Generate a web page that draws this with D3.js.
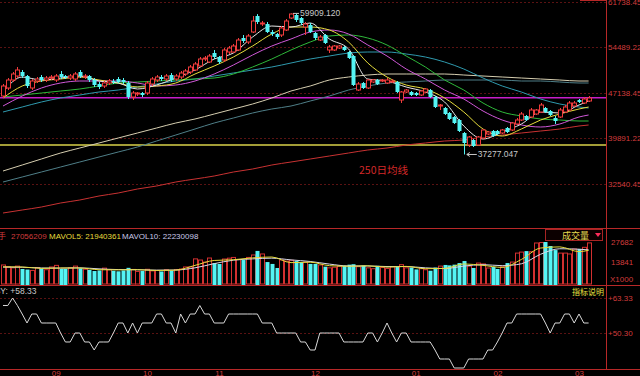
<!DOCTYPE html>
<html>
<head>
<meta charset="utf-8">
<script src="https://cdnjs.cloudflare.com/ajax/libs/d3/7.8.5/d3.min.js"></script>
<style>
html, body { margin: 0; padding: 0; background: #000; overflow: hidden; }
svg { display: block; }
text { font-family: "Liberation Sans", Arial, sans-serif; }
</style>
</head>
<body>
<div id="chart"></div>
<script>
// ---- daily bars (index 0..122) ----
var openP = [46658,47941,49225,49866,50508,49866,47941,49064,49706,49225,
  49545,49225,50187,49866,49545,49385,50508,49706,49866,49225,
  48583,48262,48743,49064,49385,49225,48743,46497,46979,47139,
  47139,48583,49225,49706,49385,50027,49385,49706,50187,50508,
  50829,51471,52594,52112,53556,52914,52433,53717,53717,54038,
  55963,55321,56925,59492,58209,58209,56925,56604,56444,57246,
  59171,59653,59171,57727,58048,56765,55642,56444,54038,54038,
  54358,54519,53717,53075,47620,48743,47941,48904,49225,49064,
  48743,48904,48904,46016,47299,47299,47139,46818,47299,47620,
  46497,45053,44733,43930,43289,42807,40722,38797,39599,38797,
  39920,40561,41043,41043,40722,41524,41203,42166,42807,43449,
  43289,43770,44091,44733,44251,43128,43289,44091,44412,45053,
  46016,45535,45856];
var closeP = [48262,49225,50187,50829,49866,48262,49064,49385,49225,49545,
  49706,49866,49706,49706,49866,50187,49866,49866,49225,48422,
  48102,48743,49064,48904,48904,48904,46497,47139,47139,46818,
  48743,49385,49706,49385,49866,49225,49866,50348,50668,51310,
  51791,52594,52754,53075,52914,52112,54038,54358,54679,55642,
  55481,56284,58690,58530,58369,56925,56604,56123,57567,58690,
  59813,58850,58369,58209,56925,55963,56123,55161,54519,54679,
  54679,54038,52754,48422,48583,47941,49225,49225,48583,49225,
  49225,49064,47299,47299,47620,46818,46818,47460,47781,46497,
  44893,45214,43770,42968,42326,41043,39118,40080,38636,40080,
  41203,40882,40241,40561,41203,40882,42326,42807,43770,42807,
  44412,44412,45214,44091,43610,42647,44412,44893,45535,45535,
  45695,46176,46337];
var highP = [48583,49545,50508,51310,50829,50027,49385,49706,50027,49866,
  50027,50187,50668,50027,50187,50508,50829,50187,50027,49545,
  48904,49064,49385,49385,49706,49545,49064,47460,47299,47299,
  49064,49706,50027,50027,50187,50348,50187,50668,50989,51631,
  52112,52914,53075,53396,54038,53075,54358,54679,55000,55963,
  56444,56604,59492,59800,58690,58530,57246,56765,57888,59011,
  59909.12,59813,59332,58530,58369,56925,56444,56604,54840,54840,
  54840,54679,53877,53235,48904,48904,49385,49385,49385,49385,
  49545,49385,49064,47460,47781,47460,47299,47620,47941,47781,
  46658,45374,44893,44091,43449,42968,40882,40241,39759,40241,
  41364,41043,41203,41203,41364,41684,42487,43128,44091,43610,
  44733,44572,45535,44893,44412,43449,44733,45214,45856,45856,
  46176,46497,46658];
var lowP = [46337,47620,48904,49545,49545,47941,47620,48743,48904,48904,
  49225,48904,49385,49385,49225,49064,49545,49385,48904,48102,
  47781,47941,48422,48583,48743,48583,46176,46016,46658,46497,
  46818,48262,48904,49064,49064,48904,49064,49385,49866,50187,
  50668,51310,52273,51952,52594,51791,52112,53396,53556,53877,
  55161,55000,56765,58209,57888,56765,56284,55802,56123,57086,
  59011,58530,58048,56444,56765,55642,55481,55000,53556,53877,
  54198,53877,52594,48262,47460,47781,47781,48743,48422,48904,
  48583,48743,47139,45535,47139,46658,46658,46658,47139,46337,
  44733,44412,43610,42807,42166,40882,37277.047,38476,38476,38636,
  39759,40401,40080,40401,40561,40722,41043,42005,42647,42647,
  43128,43610,43930,43930,43449,42166,43128,43930,44251,44893,
  45535,45374,45695];
// volume, x1000
var volume = [11800,10500,9800,11000,9000,8600,8000,10000,9300,8500,
  10400,11500,9000,9000,9800,11000,9500,8800,8400,7600,
  8000,9600,8500,7800,7400,8000,9800,8700,7300,7600,
  8800,7700,8000,7300,8500,7900,8600,9000,10400,10400,
  16000,15200,13800,16600,13100,12500,15900,16500,17000,15500,
  15200,17000,18700,21500,19400,13800,12500,9700,15200,14500,
  15000,14500,13800,13800,12500,12500,11800,10600,9800,10200,
  11000,11300,12000,12300,10600,11400,9800,9200,11200,10000,
  9300,10500,10600,12000,9800,10000,8700,9200,8500,7800,
  10000,11000,11800,11500,12000,13100,14500,11000,9700,13100,
  12500,9700,10400,9000,10500,13100,13800,20000,20700,21400,
  21000,27000,27300,27682,24900,22100,20000,20000,19400,22800,
  22800,24000,27056];
// PSY line (values on the panel's own axis)
var psy = [60.54,60.54,63.33,60.54,57.37,54.02,57.37,57.37,54.02,54.02,
  54.02,54.02,50.30,46.95,46.95,50.30,50.30,46.95,46.95,43.97,
  46.95,46.95,46.95,50.30,54.02,54.02,50.30,54.02,50.30,54.02,
  54.02,54.02,57.37,57.37,54.02,54.02,50.30,57.37,54.02,57.37,
  57.37,60.54,57.37,57.37,54.02,54.02,54.02,57.37,57.37,57.37,
  57.37,57.37,57.37,57.37,54.02,54.02,54.02,50.30,50.30,50.30,
  50.30,50.30,46.95,46.95,43.97,43.97,50.30,50.30,50.30,50.30,
  50.30,46.95,46.95,46.95,46.95,46.95,50.30,50.30,46.95,50.30,
  54.02,50.30,46.95,50.30,50.30,46.95,46.95,46.95,46.95,46.95,
  43.97,40.62,40.62,40.62,37.27,37.27,37.27,40.62,40.62,40.62,
  40.62,43.97,43.97,46.95,50.30,54.02,54.02,57.37,57.37,57.37,
  57.37,57.37,57.37,54.02,50.30,54.02,54.02,57.37,57.37,54.02,
  57.37,54.02,54.02];

// ---- moving averages, read at every 4th bar ----
var maIdx = [0,4,8,12,16,20,24,28,32,36,40,44,48,52,56,60,64,68,72,76,80,84,88,92,96,100,104,108,112,116,120,122];
var ma5 = [47299,49706,49225,49545,49866,49064,48743,47781,48422,49545,50829,52594,53556,56123,57888,57727,
  58369,55802,54198,49385,49064,48102,47299,45695,41845,39759,40882,42166,44091,43930,45214,45856];
var ma10 = [46337,48262,49064,49385,49706,49225,48743,48102,48262,48743,50187,51471,52914,54679,56604,57727,
  57727,57246,55321,51952,49706,48422,47781,46337,44091,41364,40241,41364,42807,43770,44572,44893];
var ma20 = [45053,46658,47941,48743,49064,49064,49064,48743,48262,48422,49064,50187,51631,53235,54679,55802,
  56925,57246,56604,54840,53075,50989,49385,47620,46176,44251,42807,42005,41684,42166,43289,43610];
var ma30 = [46497,46818,47139,47460,47781,48262,48743,48904,49064,49225,49385,49545,50187,51310,52594,54038,
  55321,56284,56444,55963,54840,53075,51310,49225,47620,45535,44091,43449,42968,42807,42647,42647];
var ma60 = [44091,44893,45695,46337,46818,47299,47620,48102,48583,49064,49385,49866,50348,50829,51310,51952,
  52594,53075,53556,53717,53717,53396,52914,52112,50989,49545,48262,47299,46176,45374,44893,44733];
var ma120 = [34626,35588,36551,37513,38315,39118,39920,40722,41524,42326,42968,43770,44572,45374,46337,47460,
  48262,49225,49706,50027,50187,50187,50187,50187,50027,49866,49706,49545,49385,49225,49064,49064];
var ma180 = [32861,33663,34465,35267,36069,36871,37674,38476,39438,40401,41364,42326,43128,43930,44572,45053,
  45856,46658,47620,48262,48743,48904,49064,49225,49225,49225,49225,49064,49064,48904,48743,48743];
var ma250 = [27887,28369,28850,29492,29973,30615,31096,31738,32219,32861,33342,33823,34465,34946,35588,36069,
  36551,37032,37513,37995,38315,38797,39118,39438,39599,40080,40401,40722,41043,41364,41845,42005];
var mavol5 = [10500,10400,9400,9700,9700,8500,8400,8500,8000,8200,11500,14900,15400,16700,17300,13400,
  13700,11300,10900,11200,10300,10800,9200,9400,12500,11500,10100,15600,23500,24300,21000,21940];
var mavol10 = [10300,10200,9700,9600,9800,9100,8600,8500,8200,8300,9800,12700,15100,16000,16500,15300,
  14200,12400,11100,11100,10700,10700,9800,9300,11000,12000,11300,12600,19200,23000,22700,22230];

// drawn support lines
var supportLevels = [46370, 38800];
var supportColors = ["#c81ec8", "#d8d24a"];

// axis ticks
var priceTicks = [61738.45, 54489.22, 47138.45, 39891.22, 32540.45];
var volTicks = [27682, 13841];
var psyTicks = [63.33, 50.30];
var monthBars = [11, 30, 45, 65, 86, 103, 120];
var monthLabels = ["09", "10", "11", "12", "01", "02", "03"];

var W = 640, H = 376, plotR = 606;
var upColor = "#f03c3c", downColor = "#54f4f4", axisRed = "#b82828", labelRed = "#d23c3c";

var svg = d3.select("#chart").append("svg")
    .attr("width", W).attr("height", H)
    .style("background", "#000");

var x = d3.scaleLinear().domain([0, 122]).range([3, 588.6]);
var yP = d3.scaleLinear().domain([32540.45, 61738.45]).range([184, 2]);
var yV = d3.scaleLinear().domain([0, 27682]).range([282, 242]);
var yS = d3.scaleLinear().domain([50.30, 63.33]).range([333, 298]);

var defs = svg.append("defs");
function clip(id, y0, y1) {
  defs.append("clipPath").attr("id", id).append("rect")
      .attr("x", 0).attr("y", y0).attr("width", plotR).attr("height", y1 - y0);
}
clip("cMain", 0, 228);
clip("cVol", 229, 285);
clip("cPsy", 286, 369);

// grid
var grid = svg.append("g");
priceTicks.forEach(function(v) {
  grid.append("line").attr("x1", 0).attr("x2", plotR)
      .attr("y1", Math.round(yP(v)) + 0.5).attr("y2", Math.round(yP(v)) + 0.5)
      .attr("stroke", "#5a1212").attr("stroke-dasharray", "2,2");
});
psyTicks.forEach(function(v) {
  grid.append("line").attr("x1", 0).attr("x2", plotR)
      .attr("y1", Math.round(yS(v)) + 0.5).attr("y2", Math.round(yS(v)) + 0.5)
      .attr("stroke", "#5a1212").attr("stroke-dasharray", "2,2");
});

// panel frame
[228.5, 285.5, 369.5].forEach(function(yy) {
  svg.append("line").attr("x1", 0).attr("x2", W).attr("y1", yy).attr("y2", yy)
     .attr("stroke", axisRed);
});
svg.append("line").attr("x1", plotR + 0.5).attr("x2", plotR + 0.5).attr("y1", 0).attr("y2", 370)
   .attr("stroke", axisRed);
svg.append("line").attr("x1", 580).attr("x2", plotR).attr("y1", 0.5).attr("y2", 0.5)
   .attr("stroke", axisRed);

// ---- main panel ----
var main = svg.append("g").attr("clip-path", "url(#cMain)");

supportLevels.forEach(function(v, k) {
  main.append("line").attr("x1", 0).attr("x2", plotR)
      .attr("y1", yP(v)).attr("y2", yP(v))
      .attr("stroke", supportColors[k]).attr("stroke-width", k == 0 ? 1.6 : 1.3);
});

function maLine(vals, yscale) {
  return d3.line().curve(d3.curveMonotoneX)
      .x(function(d, k) { return x(maIdx[k]); })
      .y(function(d) { return yscale(d); })(vals);
}
var maSets = [
  [ma250, "#c83232"], [ma180, "#4f7f88"], [ma120, "#d6ceb0"], [ma60, "#2f9aae"],
  [ma30, "#2eb83a"], [ma20, "#d058d8"], [ma10, "#e6dc3c"], [ma5, "#e8e8e8"]
];
maSets.forEach(function(s) {
  main.append("path").attr("d", maLine(s[0], yP))
      .attr("fill", "none").attr("stroke", s[1]).attr("stroke-width", 1);
});

var candles = main.append("g");
d3.range(openP.length).forEach(function(i) {
  var px = Math.round(x(i));
  var up = closeP[i] >= openP[i];
  var col = up ? upColor : downColor;
  var top = yP(Math.max(openP[i], closeP[i])), bot = yP(Math.min(openP[i], closeP[i]));
  candles.append("line").attr("x1", px + 0.5).attr("x2", px + 0.5)
      .attr("y1", yP(highP[i])).attr("y2", yP(lowP[i])).attr("stroke", col);
  if (up) {
    candles.append("rect").attr("x", px - 1.5).attr("y", top)
        .attr("width", 4).attr("height", Math.max(1, bot - top))
        .attr("fill", "#000").attr("stroke", col);
  } else {
    candles.append("rect").attr("x", px - 1.5).attr("y", top)
        .attr("width", 4).attr("height", Math.max(1, bot - top))
        .attr("fill", col);
  }
});

// high / low markers
var iHi = d3.maxIndex(highP), iLo = d3.minIndex(lowP);
main.append("line").attr("x1", x(iHi) + 2).attr("x2", x(iHi) + 8)
    .attr("y1", yP(highP[iHi])).attr("y2", yP(highP[iHi])).attr("stroke", "#c8c8c8");
main.append("text").attr("x", x(iHi) + 9).attr("y", yP(highP[iHi]) + 3)
    .attr("fill", "#c8c8c8").style("font-size", "8.5px").text(d3.format(".3f")(highP[iHi]));
main.append("path")
    .attr("d", "M" + (x(iLo) + 3) + "," + yP(lowP[iLo]) + "h10 M" + (x(iLo) + 3) + "," + yP(lowP[iLo]) +
         "l3,-2 M" + (x(iLo) + 3) + "," + yP(lowP[iLo]) + "l3,2")
    .attr("stroke", "#c8c8c8").attr("fill", "none");
main.append("text").attr("x", x(iLo) + 14).attr("y", yP(lowP[iLo]) + 3)
    .attr("fill", "#c8c8c8").style("font-size", "8.5px").text(d3.format(".3f")(lowP[iLo]));

main.append("text").attr("x", 359).attr("y", 174)
    .attr("fill", "#d42828").style("font-size", "10.5px")
    .style("font-family", "'Noto Sans CJK SC', sans-serif").text("250日均线");

// ---- volume panel ----
var vol = svg.append("g").attr("clip-path", "url(#cVol)");
d3.range(volume.length).forEach(function(i) {
  var px = Math.round(x(i));
  var up = closeP[i] >= openP[i];
  if (up) {
    vol.append("rect").attr("x", px - 1.5).attr("y", yV(volume[i]))
       .attr("width", 4).attr("height", yV(0) - yV(volume[i]) + 2)
       .attr("fill", "none").attr("stroke", "#d23030");
  } else {
    vol.append("rect").attr("x", px - 1.5).attr("y", yV(volume[i]))
       .attr("width", 4).attr("height", yV(0) - yV(volume[i]) + 3)
       .attr("fill", downColor);
  }
});
vol.append("path").attr("d", maLine(mavol10, yV)).attr("fill", "none").attr("stroke", "#d8d8e8");
vol.append("path").attr("d", maLine(mavol5, yV)).attr("fill", "none").attr("stroke", "#e6dc3c");

var vh = svg.append("text").attr("y", 238.5).style("font-size", "8px");
vh.append("tspan").attr("x", -10).attr("fill", "#d23c3c")
  .style("font-family", "'Noto Sans CJK SC', sans-serif").text("总手");
vh.append("tspan").attr("x", 11).attr("fill", "#d23c3c").text("27056209");
vh.append("tspan").attr("x", 49).attr("fill", "#e6dc3c").text("MAVOL5: 21940361");
vh.append("tspan").attr("x", 122).attr("fill", "#c8c8e8").text("MAVOL10: 22230098");

svg.append("rect").attr("x", 545.5).attr("y", 229.5).attr("width", 57).attr("height", 11)
   .attr("fill", "#0c0000").attr("stroke", "#a82424");
svg.append("text").attr("x", 562).attr("y", 238.5).attr("fill", "#e6dc50").style("font-size", "9px")
   .style("font-family", "'Noto Sans CJK SC', sans-serif").text("成交量");
svg.append("path").attr("d", "M595,233 h6 l-3,4 z").attr("fill", "#ff2c5a");

// ---- PSY panel ----
var ps = svg.append("g").attr("clip-path", "url(#cPsy)");
ps.append("path")
  .attr("d", d3.line().x(function(d, i) { return x(i); }).y(function(d) { return yS(d); })(psy))
  .attr("fill", "none").attr("stroke", "#d8d8d8").attr("stroke-width", 1);
svg.append("text").attr("x", -11).attr("y", 294).attr("fill", "#c8c8c8")
   .style("font-size", "8.5px").text("PSY: +58.33");
svg.append("text").attr("x", 572).attr("y", 295).attr("fill", "#e8e040").style("font-size", "8px")
   .style("font-family", "'Noto Sans CJK SC', sans-serif").text("指标说明");

// ---- right axes ----
var axP = svg.append("g").attr("transform", "translate(" + (plotR + 1) + ",0)")
    .call(d3.axisRight(yP).tickValues(priceTicks).tickSize(0).tickPadding(1).tickFormat(d3.format(".2f")));
var axV = svg.append("g").attr("transform", "translate(" + (plotR + 1) + ",0)")
    .call(d3.axisRight(yV).tickValues(volTicks).tickSize(0).tickPadding(4).tickFormat(d3.format("d")));
var axS = svg.append("g").attr("transform", "translate(" + (plotR + 1) + ",0)")
    .call(d3.axisRight(yS).tickValues(psyTicks).tickSize(0).tickPadding(1).tickFormat(function(d) { return "+" + d3.format(".2f")(d); }));
[axP, axV, axS].forEach(function(a) {
  a.select(".domain").remove();
  a.selectAll("text").attr("fill", labelRed).style("font-size", "8px")
   .style("font-family", "'Liberation Sans', Arial, sans-serif");
});
svg.append("text").attr("x", 610).attr("y", 282).attr("fill", labelRed)
   .style("font-size", "8px").text("X1000");

// ---- month labels ----
var axX = svg.append("g").attr("transform", "translate(0,370)")
    .call(d3.axisBottom(x).tickValues(monthBars).tickSize(0).tickPadding(0)
      .tickFormat(function(d, k) { return monthLabels[k]; }));
axX.select(".domain").remove();
axX.selectAll("text").attr("fill", labelRed).style("font-size", "8px")
   .style("font-family", "'Liberation Sans', Arial, sans-serif");
</script>
</body>
</html>
